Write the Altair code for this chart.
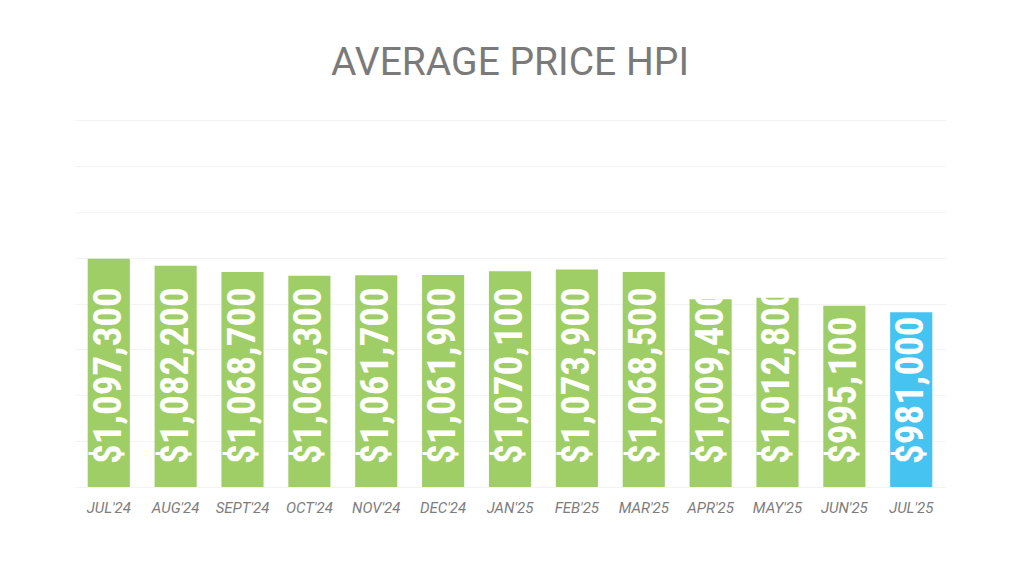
import altair as alt
import pandas as pd

months = ["JUL'24", "AUG'24", "SEPT'24", "OCT'24", "NOV'24", "DEC'24", "JAN'25",
          "FEB'25", "MAR'25", "APR'25", "MAY'25", "JUN'25", "JUL'25"]
prices = [1097300, 1082200, 1068700, 1060300, 1061700, 1061900, 1070100,
          1073900, 1068500, 1009400, 1012800, 995100, 981000]
base_value = 600000

df = pd.DataFrame({"month": months, "price": prices})
df["label"] = df["price"].apply(lambda v: "${:,}".format(v))

x = alt.X("month:N", sort=months, scale=alt.Scale(paddingInner=0.37, paddingOuter=0.19),
          axis=alt.Axis(title=None, labelAngle=0, labelFont="Roboto", labelFontStyle="italic",
                        labelFontSize=15, labelColor="#7d7d7d", labelPadding=13,
                        ticks=False, domain=False))

bars = alt.Chart(df).mark_bar().encode(
    x=x,
    y=alt.Y("price:Q", scale=alt.Scale(domain=[600000, 1400000], zero=False),
            axis=alt.Axis(title=None, labels=False, ticks=False, domain=False,
                          values=list(range(600000, 1400001, 100000)),
                          gridColor="#f3f3f3")),
    y2=alt.datum(base_value),
    color=alt.condition(alt.datum.month == "JUL'25", alt.value("#47c3f1"), alt.value("#9fce67")),
)

# dx is in the rotated frame: positive moves the text up the bar
labels = alt.Chart(df).mark_text(
    angle=270, align="left", baseline="middle", dx=23,
    font="Roboto Condensed, Roboto", fontWeight="bold", fontSize=39, color="white"
).encode(
    x=alt.X("month:N", sort=months),
    y=alt.datum(base_value),
    text="label:N",
)

chart = (bars + labels).properties(
    width=870,
    height=367,
    autosize=alt.AutoSizeParams(type="none"),
    padding={"left": 67, "top": 112, "right": 71, "bottom": 73},
    title=alt.TitleParams("AVERAGE PRICE HPI", font="Roboto", fontSize=39, fontWeight="normal",
                          color="#7a7a7a", anchor="middle", offset=37),
).configure_view(stroke=None)

chart.save("out.html", embed_options={"renderer": "svg", "actions": False})
